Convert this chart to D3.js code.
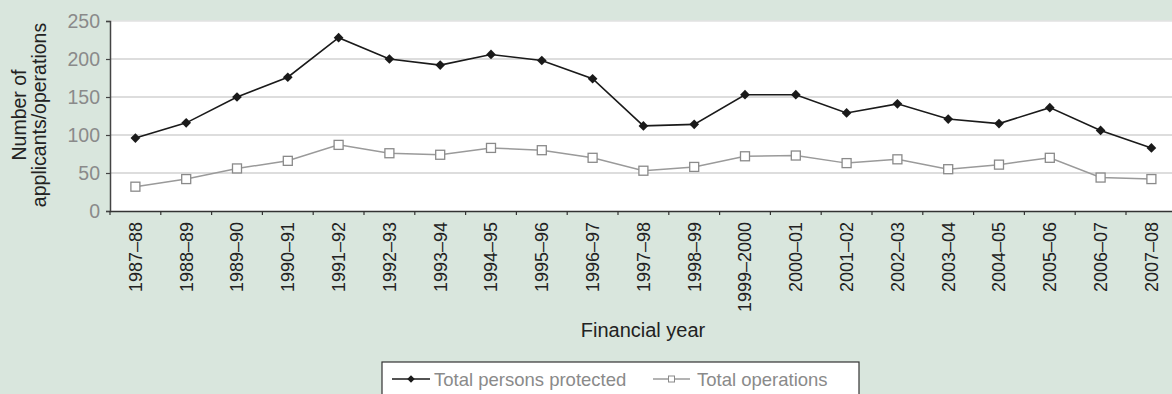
<!DOCTYPE html>
<html>
<head>
<meta charset="utf-8">
<script src="https://cdn.jsdelivr.net/npm/d3@7"></script>
<style>
  body { margin: 0; background: #d9e6dd; }
  svg { display: block; font-family: "Liberation Sans", Arial, sans-serif; }
</style>
</head>
<body>
<svg id="paper"></svg>
<script>
let years = ["1987\u201388", "1988\u201389", "1989\u201390", "1990\u201391", "1991\u201392",
    "1992\u201393", "1993\u201394", "1994\u201395", "1995\u201396", "1996\u201397",
    "1997\u201398", "1998\u201399", "1999\u20132000", "2000\u201301", "2001\u201302",
    "2002\u201303", "2003\u201304", "2004\u201305", "2005\u201306", "2006\u201307", "2007\u201308"];
let personsProtected = [96, 116, 150, 176, 228, 200, 192, 206, 198, 174, 112, 114, 153, 153, 129, 141, 121, 115, 136, 106, 83];
let totalOperations = [32, 42, 56, 66, 87, 76, 74, 83, 80, 70, 53, 58, 72, 73, 63, 68, 55, 61, 70, 44, 42];
let yTicks = [0, 50, 100, 150, 200, 250];

let W = 1172, H = 394;
let margin = {top: 21, left: 110, bottom: 183};
let plotW = 50.8 * years.length,
    plotH = H - margin.top - margin.bottom;

let svg = d3.select("#paper").attr("width", W).attr("height", H);
svg.append("rect").attr("width", W).attr("height", H).attr("fill", "#d9e6dd");

let g = svg.append("g")
    .attr("transform", "translate(" + margin.left + "," + margin.top + ")");

let x = d3.scaleBand().domain(years).range([0, plotW]);
let y = d3.scaleLinear().domain([0, 250]).range([plotH, 0]);

g.append("rect")
    .attr("width", plotW).attr("height", plotH)
    .attr("fill", "#ffffff");

// gridlines
g.selectAll(".grid")
    .data(yTicks.filter(d => d > 0))
    .enter()
    .append("line")
    .attr("x1", 0).attr("x2", plotW)
    .attr("y1", d => y(d)).attr("y2", d => y(d))
    .attr("stroke", d => d == 250 ? "#e2e2e2" : "#d2d2d2")
    .attr("stroke-width", 1.5);

// y axis
let yAxis = g.append("g")
    .call(d3.axisLeft(y).tickValues(yTicks).tickSize(4).tickPadding(6));
yAxis.select(".domain").attr("stroke", "#444").attr("stroke-width", 1.5);
yAxis.selectAll(".tick line").attr("stroke", "#444").attr("stroke-width", 1.2);
yAxis.selectAll("text")
    .attr("fill", "#8a8a8a")
    .style("font-size", "19.5px");

// x axis
let xAxis = g.append("g")
    .attr("transform", "translate(0," + plotH + ")")
    .call(d3.axisBottom(x).tickSize(0).tickSizeOuter(0));
xAxis.select(".domain").attr("stroke", "#333").attr("stroke-width", 1.5);
xAxis.selectAll(".tick text")
    .attr("transform", "rotate(-90)")
    .attr("x", -11)
    .attr("y", 0)
    .attr("dy", "0.35em")
    .style("text-anchor", "end")
    .attr("fill", "#222")
    .style("font-size", "18px");

// tick marks between categories
g.selectAll(".xtick")
    .data(d3.range(years.length + 1))
    .enter()
    .append("line")
    .attr("x1", i => i * x.step()).attr("x2", i => i * x.step())
    .attr("y1", plotH).attr("y2", plotH + 4)
    .attr("stroke", "#333").attr("stroke-width", 1.2);

let cx = d => x(d) + x.bandwidth() / 2;

let line = d3.line()
    .x((d, i) => cx(years[i]))
    .y(d => y(d));

// operations series
g.append("path")
    .datum(totalOperations)
    .attr("fill", "none")
    .attr("stroke", "#9a9a9a")
    .attr("stroke-width", 1.5)
    .attr("d", line);
g.selectAll(".ops")
    .data(totalOperations)
    .enter()
    .append("rect")
    .attr("x", (d, i) => cx(years[i]) - 4.5)
    .attr("y", d => y(d) - 4.5)
    .attr("width", 9).attr("height", 9)
    .attr("fill", "#fff")
    .attr("stroke", "#8a8a8a")
    .attr("stroke-width", 1.3);

// persons series
g.append("path")
    .datum(personsProtected)
    .attr("fill", "none")
    .attr("stroke", "#1a1a1a")
    .attr("stroke-width", 1.6)
    .attr("d", line);
let diamond = d3.symbol().type(d3.symbolDiamond2).size(60);
g.selectAll(".persons")
    .data(personsProtected)
    .enter()
    .append("path")
    .attr("d", diamond)
    .attr("transform", (d, i) => "translate(" + cx(years[i]) + "," + y(d) + ")")
    .attr("fill", "#1a1a1a");

// axis titles
svg.append("text")
    .attr("x", 643).attr("y", 337)
    .attr("text-anchor", "middle")
    .attr("fill", "#222")
    .style("font-size", "20px")
    .text("Financial year");

let yTitle = svg.append("text")
    .attr("transform", "translate(26,115) rotate(-90)")
    .attr("text-anchor", "middle")
    .attr("fill", "#222")
    .style("font-size", "19.5px");
yTitle.append("tspan").attr("x", 0).attr("dy", 0).text("Number of");
yTitle.append("tspan").attr("x", 0).attr("dy", 20).text("applicants/operations");

// legend
let legend = svg.append("g").attr("transform", "translate(382,362)");
legend.append("rect")
    .attr("width", 477).attr("height", 40)
    .attr("fill", "#fff")
    .attr("stroke", "#333").attr("stroke-width", 1.2);

legend.append("line")
    .attr("x1", 10).attr("x2", 48).attr("y1", 17).attr("y2", 17)
    .attr("stroke", "#1a1a1a").attr("stroke-width", 1.5);
legend.append("path")
    .attr("d", d3.symbol().type(d3.symbolDiamond2).size(36))
    .attr("transform", "translate(29,17)")
    .attr("fill", "#1a1a1a");
legend.append("text")
    .attr("x", 52).attr("y", 23.5)
    .attr("fill", "#8a8a8a")
    .style("font-size", "18.5px")
    .text("Total persons protected");

legend.append("line")
    .attr("x1", 271).attr("x2", 308).attr("y1", 17).attr("y2", 17)
    .attr("stroke", "#9a9a9a").attr("stroke-width", 1.3);
legend.append("rect")
    .attr("x", 286.5).attr("y", 14).attr("width", 6).attr("height", 6)
    .attr("fill", "#fff").attr("stroke", "#8a8a8a").attr("stroke-width", 1);
legend.append("text")
    .attr("x", 315).attr("y", 23.5)
    .attr("fill", "#8a8a8a")
    .style("font-size", "18.5px")
    .text("Total operations");
</script>
</body>
</html>
